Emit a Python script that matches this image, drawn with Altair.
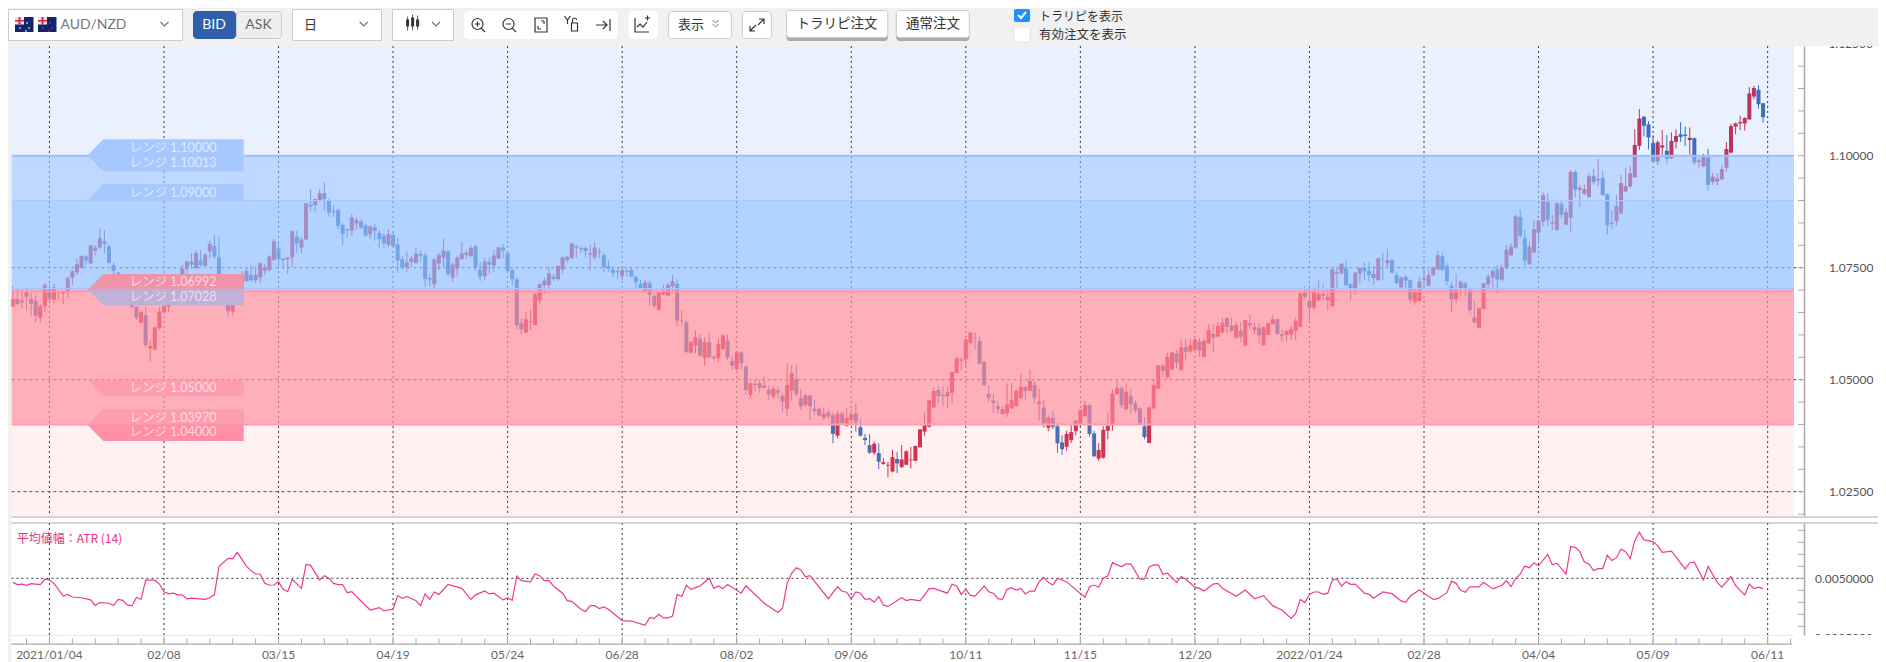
import altair as alt
import pandas as pd

FONT = "Lato, Noto Sans CJK JP, sans-serif"
JP = "Noto Sans CJK JP, sans-serif"

# ---- candles: bar numbers run from -8 to 374, bar 0 is 2021/01/04 ----
first_bar = -8
opens = [
 1.0663,1.0680,1.0673,1.0698,1.0680,1.0676,1.0638,1.0664,
 1.0700,1.0679,1.0696,1.0693,1.0696,1.0728,1.0740,1.0749,1.0775,1.0760,
 1.0788,1.0795,1.0809,1.0798,1.0756,1.0739,1.0728,1.0709,1.0689,1.0663,
 1.0627,1.0644,1.0569,1.0567,1.0615,1.0651,1.0663,1.0679,1.0699,1.0728,
 1.0747,1.0764,1.0749,1.0766,1.0754,1.0786,1.0798,1.0773,1.0722,1.0700,
 1.0652,1.0685,1.0706,1.0720,1.0734,1.0722,1.0728,1.0743,1.0745,1.0767,
 1.0793,1.0767,1.0769,1.0773,1.0819,1.0795,1.0813,1.0891,1.0890,1.0900,
 1.0916,1.0900,1.0876,1.0879,1.0845,1.0833,1.0833,1.0849,1.0853,1.0844,
 1.0825,1.0840,1.0827,1.0821,1.0801,1.0823,1.0802,1.0769,1.0751,1.0763,
 1.0760,1.0781,1.0778,1.0727,1.0713,1.0760,1.0772,1.0786,1.0728,1.0748,
 1.0769,1.0778,1.0776,1.0798,1.0745,1.0731,1.0763,1.0755,1.0770,1.0795,
 1.0782,1.0745,1.0724,1.0626,1.0605,1.0628,1.0622,1.0677,1.0711,1.0711,
 1.0730,1.0724,1.0746,1.0767,1.0771,1.0795,1.0794,1.0787,1.0779,1.0773,
 1.0784,1.0778,1.0754,1.0745,1.0741,1.0732,1.0741,1.0745,1.0729,1.0714,
 1.0696,1.0715,1.0687,1.0656,1.0690,1.0688,1.0708,1.0714,1.0630,1.0628,
 1.0560,1.0576,1.0592,1.0549,1.0584,1.0551,1.0548,1.0569,1.0587,1.0542,
 1.0523,1.0561,1.0529,1.0466,1.0491,1.0492,1.0482,1.0477,1.0462,1.0476,
 1.0464,1.0435,1.0476,1.0501,1.0459,1.0444,1.0465,1.0435,1.0435,1.0415,
 1.0427,1.0421,1.0375,1.0425,1.0397,1.0410,1.0425,1.0394,1.0370,1.0354,
 1.0337,1.0336,1.0312,1.0308,1.0295,1.0323,1.0305,1.0310,1.0320,1.0319,
 1.0349,1.0384,1.0395,1.0438,1.0477,1.0466,1.0463,1.0471,1.0515,1.0542,
 1.0545,1.0582,1.0594,1.0586,1.0539,1.0468,1.0454,1.0441,1.0423,1.0425,
 1.0436,1.0441,1.0459,1.0484,1.0475,1.0488,1.0446,1.0438,1.0393,1.0415,
 1.0396,1.0360,1.0350,1.0365,1.0385,1.0401,1.0419,1.0443,1.0380,1.0324,
 1.0326,1.0386,1.0398,1.0468,1.0481,1.0434,1.0463,1.0447,1.0436,1.0396,
 1.0359,1.0436,1.0480,1.0531,1.0505,1.0523,1.0559,1.0521,1.0573,1.0563,
 1.0566,1.0585,1.0551,1.0581,1.0602,1.0596,1.0605,1.0638,1.0620,1.0594,
 1.0609,1.0576,1.0626,1.0611,1.0615,1.0577,1.0600,1.0624,1.0635,1.0601,
 1.0600,1.0601,1.0609,1.0618,1.0694,1.0676,1.0661,1.0678,1.0691,1.0678,
 1.0664,1.0737,1.0737,1.0748,1.0713,1.0702,1.0737,1.0750,1.0743,1.0727,
 1.0722,1.0771,1.0760,1.0767,1.0734,1.0706,1.0730,1.0722,1.0673,1.0676,
 1.0723,1.0710,1.0734,1.0746,1.0776,1.0754,1.0710,1.0679,1.0704,1.0715,
 1.0700,1.0639,1.0616,1.0658,1.0713,1.0728,1.0746,1.0723,1.0749,1.0778,
 1.0795,1.0863,1.0816,1.0758,1.0784,1.0828,1.0853,1.0897,1.0848,1.0834,
 1.0892,1.0846,1.0862,1.0964,1.0924,1.0915,1.0908,1.0955,1.0945,1.0950,
 1.0914,1.0848,1.0854,1.0871,1.0920,1.0931,1.0952,1.1022,1.1087,1.1070,
 1.1028,1.0987,1.1018,1.1011,1.0994,1.1031,1.1048,1.1047,1.1035,1.1039,
 1.0986,1.0976,1.0996,1.0942,1.0942,1.0947,1.0973,1.1007,1.1065,1.1072,
 1.1072,1.1081,1.1132,1.1147,1.1117]
highs = [
 1.0709,1.0706,1.0700,1.0706,1.0693,1.0689,1.0670,1.0715,
 1.0711,1.0714,1.0697,1.0697,1.0728,1.0745,1.0771,1.0778,1.0778,1.0800,
 1.0801,1.0837,1.0834,1.0801,1.0763,1.0741,1.0730,1.0712,1.0692,1.0664,
 1.0656,1.0663,1.0589,1.0618,1.0663,1.0678,1.0688,1.0703,1.0735,1.0756,
 1.0766,1.0782,1.0789,1.0789,1.0782,1.0810,1.0823,1.0819,1.0730,1.0705,
 1.0690,1.0712,1.0741,1.0749,1.0756,1.0752,1.0763,1.0758,1.0778,1.0815,
 1.0808,1.0771,1.0773,1.0834,1.0834,1.0819,1.0895,1.0925,1.0905,1.0925,
 1.0941,1.0905,1.0890,1.0881,1.0850,1.0837,1.0870,1.0862,1.0858,1.0849,
 1.0845,1.0849,1.0834,1.0827,1.0836,1.0830,1.0817,1.0776,1.0786,1.0776,
 1.0795,1.0789,1.0783,1.0737,1.0770,1.0783,1.0815,1.0789,1.0763,1.0778,
 1.0808,1.0789,1.0800,1.0801,1.0763,1.0773,1.0773,1.0789,1.0797,1.0803,
 1.0786,1.0748,1.0728,1.0637,1.0652,1.0656,1.0693,1.0715,1.0728,1.0751,
 1.0737,1.0756,1.0775,1.0776,1.0806,1.0801,1.0798,1.0798,1.0801,1.0807,
 1.0795,1.0782,1.0767,1.0750,1.0750,1.0750,1.0750,1.0750,1.0732,1.0723,
 1.0723,1.0721,1.0693,1.0697,1.0712,1.0717,1.0734,1.0723,1.0656,1.0635,
 1.0587,1.0610,1.0602,1.0595,1.0604,1.0555,1.0592,1.0601,1.0601,1.0555,
 1.0563,1.0563,1.0534,1.0494,1.0501,1.0500,1.0507,1.0487,1.0485,1.0485,
 1.0470,1.0537,1.0533,1.0533,1.0479,1.0468,1.0467,1.0455,1.0438,1.0438,
 1.0434,1.0427,1.0431,1.0429,1.0438,1.0434,1.0447,1.0412,1.0379,1.0379,
 1.0362,1.0358,1.0325,1.0317,1.0343,1.0338,1.0354,1.0343,1.0350,1.0353,
 1.0390,1.0427,1.0456,1.0482,1.0486,1.0484,1.0484,1.0518,1.0550,1.0550,
 1.0591,1.0607,1.0606,1.0597,1.0542,1.0486,1.0468,1.0453,1.0440,1.0492,
 1.0492,1.0480,1.0514,1.0486,1.0523,1.0495,1.0480,1.0456,1.0420,1.0430,
 1.0404,1.0376,1.0386,1.0399,1.0411,1.0434,1.0452,1.0445,1.0386,1.0358,
 1.0396,1.0426,1.0478,1.0498,1.0486,1.0492,1.0480,1.0453,1.0438,1.0416,
 1.0440,1.0499,1.0533,1.0534,1.0560,1.0562,1.0566,1.0590,1.0592,1.0590,
 1.0592,1.0592,1.0592,1.0624,1.0623,1.0629,1.0639,1.0639,1.0639,1.0629,
 1.0628,1.0635,1.0646,1.0627,1.0626,1.0620,1.0627,1.0644,1.0637,1.0612,
 1.0611,1.0620,1.0639,1.0694,1.0709,1.0702,1.0706,1.0722,1.0715,1.0702,
 1.0748,1.0752,1.0760,1.0765,1.0716,1.0740,1.0751,1.0763,1.0763,1.0754,
 1.0773,1.0783,1.0792,1.0769,1.0741,1.0731,1.0734,1.0725,1.0702,1.0730,
 1.0751,1.0746,1.0752,1.0789,1.0783,1.0761,1.0719,1.0737,1.0720,1.0719,
 1.0706,1.0676,1.0661,1.0716,1.0736,1.0748,1.0756,1.0758,1.0801,1.0804,
 1.0868,1.0880,1.0834,1.0808,1.0857,1.0857,1.0918,1.0916,1.0868,1.0896,
 1.0900,1.0883,1.0968,1.0968,1.0935,1.0935,1.0961,1.0970,1.0993,1.0966,
 1.0916,1.0877,1.0912,1.0957,1.0972,1.0977,1.1059,1.1104,1.1089,1.1077,
 1.1046,1.1034,1.1057,1.1046,1.1052,1.1059,1.1075,1.1065,1.1063,1.1041,
 1.0996,1.1004,1.1015,1.0962,1.0961,1.0979,1.1031,1.1071,1.1074,1.1089,
 1.1086,1.1153,1.1156,1.1157,1.1118]
lows = [
 1.0663,1.0667,1.0659,1.0656,1.0642,1.0629,1.0627,1.0652,
 1.0674,1.0670,1.0679,1.0669,1.0682,1.0711,1.0734,1.0749,1.0756,1.0758,
 1.0778,1.0792,1.0782,1.0760,1.0736,1.0722,1.0706,1.0682,1.0659,1.0633,
 1.0626,1.0572,1.0540,1.0566,1.0611,1.0648,1.0652,1.0675,1.0695,1.0726,
 1.0737,1.0748,1.0748,1.0752,1.0754,1.0771,1.0771,1.0719,1.0690,1.0641,
 1.0642,1.0680,1.0700,1.0719,1.0719,1.0715,1.0715,1.0734,1.0741,1.0766,
 1.0748,1.0748,1.0736,1.0752,1.0782,1.0782,1.0812,1.0875,1.0875,1.0897,
 1.0877,1.0864,1.0864,1.0836,1.0801,1.0818,1.0821,1.0834,1.0836,1.0819,
 1.0814,1.0810,1.0795,1.0793,1.0795,1.0797,1.0739,1.0748,1.0740,1.0752,
 1.0760,1.0763,1.0708,1.0708,1.0703,1.0745,1.0752,1.0730,1.0718,1.0730,
 1.0767,1.0769,1.0773,1.0743,1.0719,1.0722,1.0737,1.0741,1.0769,1.0771,
 1.0741,1.0711,1.0612,1.0600,1.0603,1.0611,1.0622,1.0669,1.0691,1.0704,
 1.0721,1.0719,1.0737,1.0761,1.0770,1.0773,1.0782,1.0773,1.0743,1.0767,
 1.0771,1.0740,1.0741,1.0729,1.0724,1.0723,1.0730,1.0729,1.0704,1.0702,
 1.0694,1.0665,1.0659,1.0654,1.0688,1.0685,1.0694,1.0619,1.0620,1.0559,
 1.0558,1.0558,1.0550,1.0531,1.0548,1.0543,1.0539,1.0566,1.0544,1.0522,
 1.0522,1.0522,1.0468,1.0459,1.0473,1.0471,1.0480,1.0455,1.0456,1.0459,
 1.0427,1.0419,1.0453,1.0462,1.0433,1.0440,1.0410,1.0421,1.0418,1.0409,
 1.0412,1.0358,1.0369,1.0401,1.0395,1.0399,1.0384,1.0373,1.0354,1.0334,
 1.0332,1.0300,1.0310,1.0282,1.0293,1.0291,1.0303,1.0310,1.0302,1.0318,
 1.0349,1.0374,1.0393,1.0436,1.0448,1.0440,1.0436,1.0447,1.0514,1.0521,
 1.0530,1.0579,1.0566,1.0534,1.0486,1.0451,1.0426,1.0423,1.0422,1.0417,
 1.0435,1.0440,1.0456,1.0456,1.0474,1.0448,1.0408,1.0393,1.0385,1.0390,
 1.0337,1.0332,1.0341,1.0359,1.0376,1.0395,1.0417,1.0373,1.0328,1.0318,
 1.0324,1.0367,1.0386,1.0466,1.0436,1.0432,1.0425,1.0426,1.0401,1.0367,
 1.0358,1.0434,1.0478,1.0505,1.0503,1.0521,1.0525,1.0520,1.0542,1.0559,
 1.0565,1.0551,1.0550,1.0579,1.0560,1.0594,1.0603,1.0603,1.0607,1.0592,
 1.0585,1.0574,1.0613,1.0602,1.0581,1.0575,1.0599,1.0623,1.0600,1.0585,
 1.0585,1.0589,1.0587,1.0617,1.0678,1.0632,1.0655,1.0674,1.0676,1.0655,
 1.0663,1.0700,1.0735,1.0710,1.0676,1.0689,1.0716,1.0722,1.0719,1.0713,
 1.0721,1.0722,1.0751,1.0737,1.0713,1.0704,1.0704,1.0670,1.0667,1.0675,
 1.0708,1.0708,1.0731,1.0745,1.0743,1.0711,1.0650,1.0670,1.0685,1.0685,
 1.0648,1.0626,1.0615,1.0657,1.0696,1.0706,1.0693,1.0720,1.0747,1.0775,
 1.0793,1.0816,1.0754,1.0756,1.0782,1.0804,1.0842,1.0843,1.0834,1.0833,
 1.0860,1.0845,1.0828,1.0907,1.0886,1.0912,1.0906,1.0935,1.0932,1.0911,
 1.0824,1.0836,1.0843,1.0870,1.0918,1.0929,1.0951,1.1013,1.1043,1.1014,
 1.0985,1.0979,1.0996,1.0982,1.0993,1.1016,1.1031,1.1022,1.1002,1.0979,
 1.0974,1.0974,1.0922,1.0935,1.0934,1.0946,1.0964,1.1005,1.1048,1.1057,
 1.1056,1.1080,1.1126,1.1105,1.1074]
closes = [
 1.0680,1.0669,1.0677,1.0685,1.0669,1.0643,1.0664,1.0712,
 1.0679,1.0706,1.0697,1.0696,1.0728,1.0742,1.0758,1.0776,1.0766,1.0800,
 1.0795,1.0816,1.0803,1.0761,1.0743,1.0728,1.0709,1.0689,1.0663,1.0638,
 1.0651,1.0577,1.0575,1.0617,1.0652,1.0664,1.0682,1.0700,1.0730,1.0748,
 1.0764,1.0757,1.0783,1.0756,1.0779,1.0803,1.0775,1.0722,1.0700,1.0653,
 1.0685,1.0706,1.0734,1.0743,1.0722,1.0734,1.0760,1.0751,1.0775,1.0809,
 1.0769,1.0770,1.0773,1.0831,1.0804,1.0813,1.0894,1.0886,1.0903,1.0916,
 1.0903,1.0873,1.0873,1.0843,1.0825,1.0836,1.0862,1.0856,1.0840,1.0822,
 1.0842,1.0832,1.0814,1.0804,1.0825,1.0798,1.0766,1.0750,1.0762,1.0771,
 1.0781,1.0777,1.0725,1.0723,1.0769,1.0778,1.0788,1.0736,1.0757,1.0772,
 1.0782,1.0784,1.0794,1.0751,1.0730,1.0764,1.0757,1.0777,1.0795,1.0788,
 1.0743,1.0724,1.0621,1.0612,1.0635,1.0630,1.0691,1.0713,1.0721,1.0737,
 1.0725,1.0754,1.0773,1.0774,1.0804,1.0798,1.0791,1.0794,1.0782,1.0795,
 1.0786,1.0751,1.0748,1.0738,1.0743,1.0745,1.0743,1.0730,1.0717,1.0704,
 1.0717,1.0689,1.0665,1.0694,1.0699,1.0712,1.0720,1.0632,1.0632,1.0562,
 1.0584,1.0595,1.0554,1.0584,1.0550,1.0548,1.0580,1.0599,1.0549,1.0532,
 1.0561,1.0537,1.0477,1.0492,1.0488,1.0482,1.0487,1.0467,1.0480,1.0471,
 1.0451,1.0488,1.0515,1.0468,1.0440,1.0465,1.0441,1.0430,1.0420,1.0424,
 1.0418,1.0379,1.0424,1.0403,1.0414,1.0423,1.0406,1.0375,1.0365,1.0337,
 1.0357,1.0317,1.0316,1.0310,1.0327,1.0313,1.0322,1.0340,1.0322,1.0352,
 1.0389,1.0398,1.0454,1.0475,1.0463,1.0463,1.0472,1.0517,1.0548,1.0545,
 1.0590,1.0605,1.0592,1.0536,1.0488,1.0460,1.0448,1.0434,1.0434,1.0445,
 1.0454,1.0475,1.0484,1.0475,1.0497,1.0460,1.0451,1.0399,1.0415,1.0395,
 1.0358,1.0345,1.0379,1.0383,1.0408,1.0432,1.0443,1.0379,1.0329,1.0343,
 1.0388,1.0397,1.0469,1.0481,1.0443,1.0473,1.0446,1.0432,1.0402,1.0372,
 1.0438,1.0488,1.0532,1.0520,1.0551,1.0561,1.0538,1.0572,1.0562,1.0577,
 1.0590,1.0565,1.0587,1.0611,1.0594,1.0620,1.0627,1.0618,1.0609,1.0622,
 1.0596,1.0633,1.0621,1.0617,1.0599,1.0617,1.0626,1.0635,1.0602,1.0597,
 1.0609,1.0613,1.0631,1.0693,1.0685,1.0661,1.0698,1.0691,1.0687,1.0685,
 1.0746,1.0740,1.0759,1.0711,1.0703,1.0739,1.0749,1.0742,1.0734,1.0736,
 1.0771,1.0770,1.0767,1.0739,1.0716,1.0728,1.0721,1.0678,1.0699,1.0719,
 1.0726,1.0734,1.0751,1.0778,1.0745,1.0720,1.0679,1.0700,1.0719,1.0704,
 1.0655,1.0627,1.0660,1.0715,1.0730,1.0743,1.0724,1.0750,1.0790,1.0797,
 1.0865,1.0821,1.0766,1.0797,1.0836,1.0855,1.0912,1.0857,1.0851,1.0894,
 1.0868,1.0874,1.0964,1.0924,1.0928,1.0925,1.0954,1.0941,1.0948,1.0912,
 1.0844,1.0851,1.0888,1.0939,1.0932,1.0961,1.1024,1.1083,1.1067,1.1041,
 1.0987,1.1030,1.1023,1.0993,1.1033,1.1044,1.1042,1.1044,1.1040,1.0985,
 1.0989,1.0998,1.0935,1.0953,1.0949,1.0970,1.1015,1.1066,1.1072,1.1075,
 1.1084,1.1139,1.1151,1.1115,1.1086]

# ---- ATR line, vertices as read ----
atr_bars = [
 -8,-7,-6,-5,-4,-2,-1,0,1,3,4,5,7,9,10,11,13,14,15,16,17,18,19,20,21,23,24,25,26,27,28,29,30,31,34,35,36,37,39,40,41,
 43,44,45,46,47,48,49,50,51,52,53,55,56,57,59,60,61,62,63,64,65,66,67,70,72,73,75,76,77,78,80,81,82,83,84,85,87,90,92,
 93,95,96,97,99,100,101,102,103,105,106,107,108,109,110,112,113,114,116,117,118,119,120,121,122,125,127,129,
 130,131,132,133,134,135,136,137,138,139,140,141,142,144,145,146,147,148,151,152,156,159,160,161,162,163,164,165,166,
 170,172,173,174,175,176,177,178,179,180,181,182,183,186,187,188,190,192,193,196,197,198,199,200,201,202,204,205,206,
 207,208,209,210,211,212,213,214,215,216,217,218,219,220,222,226,227,228,229,230,231,232,233,234,235,236,238,239,240,
 241,242,243,244,246,247,248,250,251,252,254,255,256,259,261,263,265,267,269,
 271,272,273,274,275,276,277,278,279,280,281,282,283,284,285,287,288,289,291,293,295,296,297,299,302,303,305,306,307,
 308,309,310,312,313,315,317,318,319,320,321,322,323,324,325,327,328,329,331,332,333,334,335,336,337,338,339,340,341,
 342,343,344,345,346,347,348,350,351,352,354,357,358,359,361,362,364,365,367,368,370,371,372,373,374]
atr_values = [
 .00483,.00474,.00476,.00471,.00478,.00474,.00496,.00493,.00479,.00426,.00433,.00422,.00419,.00410,.00387,.00399,.00396,.00387,.00412,.00408,.00389,.00385,.00421,.00412,.00492,.00492,.00476,.00444,.00435,.00438,.00431,.00431,.00414,.00417,.00412,.00419,.00431,.00549,.00583,.00582,.00608,
 .00551,.00531,.00519,.00517,.00479,.00471,.00472,.00486,.00454,.00444,.00496,.00458,.00558,.00554,.00493,.00511,.00500,.00479,.00474,.00474,.00440,.00444,.00424,.00368,.00378,.00364,.00371,.00428,.00417,.00424,.00407,.00386,.00435,.00412,.00443,.00433,.00474,.00458,.00412,
 .00431,.00447,.00435,.00438,.00410,.00418,.00408,.00510,.00490,.00485,.00518,.00511,.00490,.00490,.00468,.00438,.00407,.00404,.00371,.00361,.00386,.00386,.00374,.00381,.00371,.00324,.00322,.00310,
 .00304,.00336,.00333,.00350,.00335,.00335,.00343,.00433,.00424,.00471,.00454,.00461,.00468,.00500,.00458,.00468,.00457,.00474,.00438,.00469,.00396,.00358,.00375,.00479,.00521,.00544,.00535,.00506,.00511,
 .00415,.00465,.00446,.00442,.00414,.00443,.00438,.00412,.00415,.00401,.00424,.00389,.00383,.00419,.00407,.00412,.00406,.00457,.00458,.00438,.00475,.00468,.00433,.00454,.00429,.00426,.00468,.00444,.00438,
 .00415,.00412,.00454,.00461,.00451,.00458,.00435,.00447,.00447,.00486,.00504,.00483,.00472,.00500,.00485,.00421,.00465,.00472,.00463,.00500,.00510,.00565,.00556,.00549,.00560,.00560,.00496,.00496,.00546,
 .00556,.00556,.00517,.00521,.00483,.00507,.00496,.00463,.00458,.00447,.00476,.00479,.00458,.00425,.00451,.00415,.00428,.00385,.00368,
 .00333,.00354,.00412,.00399,.00433,.00443,.00443,.00433,.00438,.00493,.00497,.00468,.00486,.00475,.00476,.00438,.00433,.00417,.00443,.00436,.00406,.00400,.00426,.00451,.00412,.00415,.00440,.00488,.00479,
 .00450,.00442,.00464,.00464,.00483,.00456,.00471,.00490,.00465,.00500,.00517,.00551,.00544,.00564,.00553,.00600,.00556,.00563,.00517,.00632,.00629,.00611,.00568,.00560,.00532,.00540,.00540,.00596,.00574,
 .00586,.00622,.00611,.00582,.00657,.00692,.00660,.00653,.00636,.00608,.00613,.00539,.00565,.00567,.00493,.00549,.00483,.00463,.00507,.00469,.00431,.00476,.00457,.00463,.00457]

# ---- axes ----
date_labels = ["2021/01/04","02/08","03/15","04/19","05/24","06/28","08/02","09/06","10/11","11/15","12/20",
               "2022/01/24","02/28","04/04","05/09","06/11"]
date_bars = [0,25,50,75,100,125,150,175,200,225,250,275,300,325,350,375]
minor_bars = [-5,0,5,10,15,20,25,30,35,40,45,50,55,60,65,70,75,80,85,90,95,100,105,110,115,120,125,130,135,140,145,150,
              155,160,165,170,175,180,185,190,195,200,205,210,215,220,225,230,235,240,245,250,255,260,265,270,275,280,
              285,290,295,300,305,310,315,320,325,330,335,340,345,350,355,360,365,370,375,380]
price_labels = [1.025,1.05,1.075,1.10]
price_clipped_label = [1.125]
price_grid = [1.025,1.05,1.075]
price_minor = [1.02,1.025,1.03,1.035,1.04,1.045,1.05,1.055,1.06,1.065,1.07,1.075,1.08,1.085,1.09,1.095,1.10,1.105,1.11,1.115,1.12]
atr_labels = [0.005]
atr_clipped_label = [0.0025]
atr_grid = [0.005]
atr_minor = [0.003,0.0035,0.004,0.0045,0.005,0.0055,0.006,0.0065,0.007]

# ---- range bands, drawn over the candles ----
band_top = [1.12449,1.10,1.09,1.07,1.04]
band_bottom = [1.10,1.09,1.07,1.04,1.01957]
band_colors = ["#2d73f5","#95beff","#8ebcff","#ff8b9b","#ff697d"]
band_alpha = [0.10,0.60,0.68,0.69,0.10]
edge_prices = [1.10,1.09,1.0703,1.0697,1.04]
edge_colors = ["#9dbeff","#a9c9ff","#a3c4ff","#ff94a6","#ff9cb0"]
edge_widths = [2,1,1.5,1.5,2]

# ---- range tags ----
tag_prices = [1.10,1.10013,1.09,1.06992,1.07028,1.05,1.0397,1.04]
tag_texts = ["レンジ 1.10000","レンジ 1.10013","レンジ 1.09000","レンジ 1.06992","レンジ 1.07028","レンジ 1.05000","レンジ 1.03970","レンジ 1.04000"]
tag_colors = ["#a6c8ff","#a6c8ff","#a6c8ff","#f093a8","#c0b0d8","#ff9db0","#ff9db0","#ff8fa3"]
tag_sides = ["up","down","up","up","down","down","up","down"]

W, H = 1870, 654
assert len(opens) == len(highs) == len(lows) == len(closes) == 383, (len(opens), len(highs), len(lows), len(closes))
assert len(atr_bars) == len(atr_values), (len(atr_bars), len(atr_values))

px = lambda v: v - 8  # page pixel to chart pixel
one = pd.DataFrame({"a": [0]})

x_scale = alt.Scale(domain=[-8.3, 380.75], range=[3.4, 1786], padding=0, nice=False)
p_scale = alt.Scale(domain=[1.01957, 1.12449], range=[508, 38], nice=False)
a_scale = alt.Scale(domain=[0.002638, 0.007304], range=[627, 515], nice=False)
plot_l, plot_r = alt.value(3.4), alt.value(1786)

XF = alt.X("bar:Q", scale=x_scale, axis=None)
YP = lambda f: alt.Y(f, type="quantitative", scale=p_scale, axis=None)
YA = lambda f: alt.Y(f, type="quantitative", scale=a_scale, axis=None)

candles = pd.DataFrame({"bar": list(range(first_bar, first_bar + len(opens))), "o": opens, "h": highs, "l": lows, "c": closes})
candles["dir"] = ["up" if c >= o else "down" for o, c in zip(opens, closes)]
dir_scale = alt.Scale(domain=["up", "down"], range=["#cf2c4a", "#3f6db8"])

layers = []

# grid and real axes (these stay behind every mark)
vg = pd.DataFrame({"bar": date_bars, "lab": date_labels})
layers.append(alt.Chart(vg).mark_rule(color="#333", strokeDash=[2, 3], strokeWidth=1).encode(
    x=XF, y=alt.value(px(46)), y2=alt.value(px(516))))
layers.append(alt.Chart(vg).mark_rule(color="#333", strokeDash=[2, 3], strokeWidth=1).encode(
    x=XF, y=alt.value(px(523)), y2=alt.value(px(635))))
layers.append(alt.Chart(pd.DataFrame({"p": price_grid})).mark_rule(
    color="#444", strokeDash=[3, 3], strokeWidth=1).encode(
    y=alt.Y("p:Q", scale=p_scale, axis=alt.Axis(
        orient="right", offset=px(1804) - W, values=price_labels, format=".5f", grid=False, ticks=False, tickSize=0,
        labelPadding=69, labelAlign="right", labelColor="#555", labelFont=FONT, labelFontSize=12, labelOverlap=False,
        labelFlush=False, labelBound=False, domainColor="#aaa", domainWidth=1.5, title=None)),
    x=plot_l, x2=alt.value(px(1804))))
layers.append(alt.Chart(pd.DataFrame({"v": atr_grid})).mark_rule(color="#333", strokeDash=[2, 3], strokeWidth=1).encode(
    y=alt.Y("v:Q", scale=a_scale, axis=alt.Axis(
        orient="right", offset=px(1804) - W, values=atr_labels, format=".7f", grid=False, ticks=False, tickSize=0,
        labelPadding=69, labelAlign="right", labelColor="#555", labelFont=FONT, labelFontSize=12, labelOverlap=False,
        labelFlush=False, labelBound=False, domainColor="#aaa", domainWidth=1.5, title=None)),
    x=plot_l, x2=alt.value(px(1804))))

# candles
layers.append(alt.Chart(candles).mark_rule(strokeWidth=1).encode(
    x=XF, y=YP("h"), y2="l:Q", color=alt.Color("dir:N", scale=dir_scale, legend=None)))
layers.append(alt.Chart(candles).mark_bar(size=4).encode(
    x=XF, y=YP("o"), y2="c:Q", color=alt.Color("dir:N", scale=dir_scale, legend=None)))

# range bands and their edges
bands = pd.DataFrame({"t": band_top, "b": band_bottom, "col": band_colors, "al": band_alpha})
layers.append(alt.Chart(bands).mark_rect().encode(
    x=plot_l, x2=plot_r, y=YP("t"), y2="b:Q",
    color=alt.Color("col:N", scale=None, legend=None), opacity=alt.Opacity("al:Q", scale=None, legend=None)))
edges = pd.DataFrame({"p": edge_prices, "col": edge_colors, "w": edge_widths})
layers.append(alt.Chart(edges).mark_rule().encode(
    x=plot_l, x2=plot_r, y=YP("p"),
    color=alt.Color("col:N", scale=None, legend=None), size=alt.Size("w:Q", scale=None, legend=None)))

# range tags
tags = pd.DataFrame({"p": tag_prices, "txt": tag_texts, "col": tag_colors, "side": tag_sides})
tag_x = alt.value(px(87.3))
for side, path, dy in [("up", "M0,0 L16,-16.5 L156.4,-16.5 L156.4,0 Z", -8), ("down", "M0,0 L16,16.5 L156.4,16.5 L156.4,0 Z", 8)]:
    d = tags[tags.side == side]
    layers.append(alt.Chart(d).mark_point(shape=path, size=4, filled=True, opacity=1).encode(
        x=tag_x, y=YP("p"), color=alt.Color("col:N", scale=None, legend=None)))
    layers.append(alt.Chart(d).mark_text(font=FONT, fontSize=12.5, fill="#ffffff", opacity=0.62, dy=dy, align="center", baseline="middle").encode(
        x=alt.value(px(173)), y=YP("p"), text="txt:N"))

# ATR line and tick marks
atr = pd.DataFrame({"bar": atr_bars, "v": atr_values})
layers.append(alt.Chart(atr).mark_line(color="#ec3a92", strokeWidth=1.2, interpolate="linear").encode(
    x=XF, y=YA("v")))
layers.append(alt.Chart(pd.DataFrame({"p": price_minor})).mark_rule(color="#aaa").encode(
    x=alt.value(px(1798)), x2=alt.value(px(1804)), y=YP("p")))
layers.append(alt.Chart(pd.DataFrame({"v": atr_minor})).mark_rule(color="#aaa").encode(
    x=alt.value(px(1798)), x2=alt.value(px(1804)), y=YA("v")))
layers.append(alt.Chart(pd.DataFrame({"bar": minor_bars})).mark_rule(color="#aaa").encode(
    x=XF, y=alt.value(px(638.5)), y2=alt.value(px(644))))
layers.append(alt.Chart(vg).mark_rule(color="#aaa").encode(
    x=XF, y=alt.value(px(635)), y2=alt.value(px(644))))
# date axis labels through the bar scale
layers.append(alt.Chart(vg).mark_text(font=FONT, fontSize=12, fill="#666", align="center", baseline="middle").encode(
    x=XF, y=alt.value(px(655)), text="lab:N"))
# the labels the frame clips: drawn now, part covered below
layers.append(alt.Chart(pd.DataFrame({"p": price_clipped_label, "t": ["1.12500"]})).mark_text(
    font=FONT, fontSize=12, fill="#555", align="right", baseline="middle").encode(
    x=alt.value(px(1873)), y=YP("p"), text="t:N"))
layers.append(alt.Chart(pd.DataFrame({"v": atr_clipped_label, "t": ["0.0025000"]})).mark_text(
    font=FONT, fontSize=12, fill="#555", align="right", baseline="middle").encode(
    x=alt.value(px(1873)), y=YA("v"), text="t:N"))


# ---- page furniture, in page pixels ----
def rect(x0, y0, x1, y1, fill, stroke=None, r=0, sw=1):
    kw = {"fill": fill}
    if stroke:
        kw.update(stroke=stroke, strokeWidth=sw)
    if r:
        kw["cornerRadius"] = r
    layers.append(alt.Chart(one).mark_rect(**kw).encode(
        x=alt.value(px(x0)), x2=alt.value(px(x1)), y=alt.value(px(y0)), y2=alt.value(px(y1))))


def text(s, x, y, size=14, color="#333", align="center", font=JP):
    layers.append(alt.Chart(one).mark_text(text=s, font=font, fontSize=size, fill=color, align=align, baseline="middle").encode(
        x=alt.value(px(x)), y=alt.value(px(y))))


def icon(path, x, y, color="#333", sw=1.2, filled=False):
    layers.append(alt.Chart(one).mark_point(shape=path, size=4, filled=filled, color=color, strokeWidth=sw, opacity=1).encode(
        x=alt.value(px(x)), y=alt.value(px(y))))


CHEV = "M-4,-2.5 L0,1.5 L4,-2.5"

rect(8, 46, 11.4, 662, "#f1f1f1")            # left strip
rect(1805, 635, 1878, 648, "#ffffff")        # hides lower part of clipped ATR label
rect(11.4, 643.5, 1792, 644.7, "#aaaaaa")    # date axis line
rect(11.4, 516.5, 1878, 517.5, "#aaaaaa")
rect(11.4, 522.5, 1878, 523.5, "#aaaaaa")
rect(11.4, 635, 1794, 636, "#eaeaea")
text("平均値幅：ATR (14)", 16.7, 539, size=12, color="#e8308c", align="left")

rect(8, 8, 1878, 46, "#f1f1f1")              # toolbar
rect(8.5, 9.5, 182.5, 40.5, "#ffffff", "#cccccc")
for fx, star in [(15, "#ffffff"), (38, "#e03040")]:
    rect(fx, 17, fx + 18.5, 32, "#10256e")
    rect(fx, 17, fx + 9, 24.5, "#f3e8ea")
    rect(fx + 3.5, 17, fx + 5.5, 24.5, "#d9263c")
    rect(fx, 20, fx + 9, 21.5, "#d9263c")
    icon("M-1,0 L0,-1 L1,0 L0,1 Z M6,-5 L7,-6 L8,-5 L7,-4 Z M8,0 L9,-1 L10,0 L9,1 Z M5,3 L6,2 L7,3 L6,4 Z", fx + 5, 28, star, sw=0.3, filled=True)
text("AUD/NZD", 60.4, 24.5, size=14, color="#777", align="left", font=FONT)
icon(CHEV, 164.5, 24.5, "#777")

rect(193, 11, 236, 39, "#2e5fa8", r=4)
text("BID", 214, 25, size=14, color="#ffffff", font=FONT)
rect(236.5, 11.5, 281.5, 38.5, "#eeeeee", "#cccccc", r=3)
text("ASK", 258.5, 25, size=14, color="#666", font=FONT)

rect(292.5, 9.5, 381.5, 40.5, "#ffffff", "#cccccc")
text("日", 310.6, 24.5, size=13)
icon(CHEV, 363.7, 24.5, "#777")
rect(392.5, 9.5, 453.5, 40.5, "#ffffff", "#cccccc")
icon("M-5,-7 V7 M0,-9 V7 M5,-8 V6", 412.6, 23.5, "#444", sw=0.9)
icon("M-6.5,-4 h3 v7 h-3 z M-1.5,-6 h3 v9 h-3 z M3.5,-4 h3 v7 h-3 z", 412.6, 23.5, "#333", sw=0.5, filled=True)
icon(CHEV, 436, 24.5, "#777")

rect(464, 11, 617.5, 39, "#ffffff", r=4)
icon("M-6,-1 A5.5,5.5 0 1 1 5,-1 A5.5,5.5 0 1 1 -6,-1 M3.2,3.2 L7,7 M-3,-1 L2,-1 M-0.5,-3.5 L-0.5,1.5", 478, 25)
icon("M-6,-1 A5.5,5.5 0 1 1 5,-1 A5.5,5.5 0 1 1 -6,-1 M3.2,3.2 L7,7 M-3,-1 L2,-1", 509, 25)
icon("M-6,-7 H6 V7 H-6 Z M-3,4 L-3,1 M-3,4 L0,4 M3,-4 L3,-1 M3,-4 L0,-4", 541, 25)
icon("M-7,-8 L-4,-4 L-1,-8 M-4,-4 L-4,0 M0,-1 H6 V7 H0 Z M1,-1 V-4 A2,2 0 0 1 5,-4", 571.5, 24)
icon("M-7,0 H4 M0,-4 L4,0 L0,4 M7,-6 V6", 603, 25)
rect(628.6, 11, 658, 39, "#ffffff", r=4)
icon("M-7,-7 V7 H7 M-5,2 L-2,-1 L1,2 L5,-3 M3,-7 H8 M5.5,-9.5 V-4.5", 642, 25)

rect(668.6, 11.5, 731.4, 38.5, "#ffffff", "#cccccc", r=3)
text("表示", 691, 25, size=13)
icon("M-3,-4 L0,-1 L3,-4 M-3,0 L0,3 L3,0", 715.5, 24, "#777", sw=1)
rect(742.4, 11.5, 771.4, 38.5, "#ffffff", "#cccccc", r=3)
icon("M2,-6 L7,-6 L7,-1 M7,-6 L1,0 M-2,6 L-7,6 L-7,1 M-7,6 L-1,0", 757, 25)

rect(786.5, 12, 887.8, 41, "#aaaaaa", r=3)
rect(786.5, 10.5, 887.8, 37.5, "#ffffff", "#cccccc", r=3)
text("トラリピ注文", 837, 24, size=13.5)
rect(896.3, 12, 969.4, 41, "#aaaaaa", r=3)
rect(896.3, 10.5, 969.4, 37.5, "#ffffff", "#cccccc", r=3)
text("通常注文", 933, 24, size=13.5)

rect(1014, 9, 1030, 22, "#1e90ff", r=2)
icon("M-4,0 L-1,3 L4,-3", 1022, 15, "#ffffff", sw=2)
text("トラリピを表示", 1039, 17, size=12, align="left")
rect(1014, 27, 1030, 42, "#ffffff", "#e5e5e5", r=2)
text("有効注文を表示", 1039, 35, size=12.5, align="left")

chart = alt.layer(*layers).resolve_scale(y="independent").properties(
    width=W, height=H, padding=0, autosize=alt.AutoSizeParams(type="none"), background="#ffffff"
).configure_view(stroke=None)

chart.save("out.html", embed_options={"renderer": "svg", "actions": False})
